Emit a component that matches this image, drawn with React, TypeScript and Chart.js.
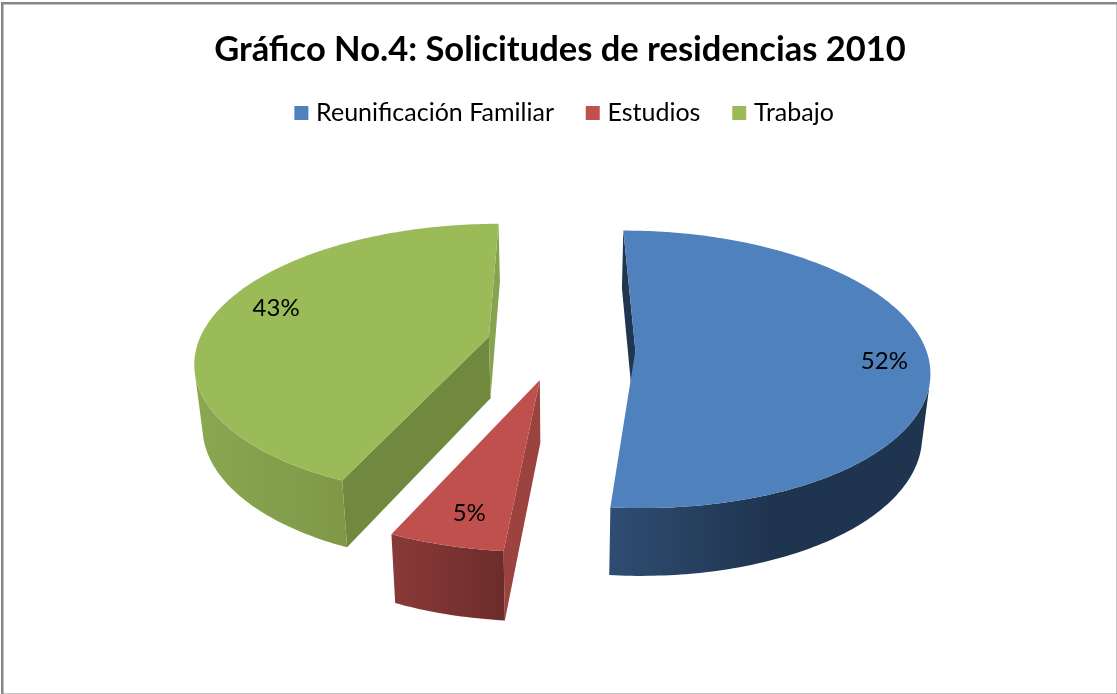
import React, { useEffect, useRef } from "react";
import { Chart, registerables } from "chart.js";

Chart.register(...registerables);

const TITLE = "Gráfico No.4: Solicitudes de residencias 2010";
const categories = ["Reunificación Familiar", "Estudios", "Trabajo"];
const shares = [51.5, 5.4, 43.1];
const topColors = ["#4F81BD", "#C0504D", "#9BBB59"];
const wallFrom = ["#2F4D72", "#893A39", "#8BA751"];
const wallTo = ["#1F344F", "#6D2C2A", "#71893F"];
const startWall = ["#1F3550", "#9C433F", "#71893F"];
const endWall = ["#1F3550", "#9C433F", "#88A350"];
const explode = [0.243, 0.255, 0.243];
const apexU = [0.013, 0, -0.007];
const apexV = [-0.005, -0.03, -0.044];
const labelReach = [0.85, 0.82, 0.81];
const labelTurn = [2, -1, 6.5];

// oblique-view camera of the 3D pie
const VIEW = { a: 294.5, b: 136, p: 0.13, depth: 62, shrink: 1.023 };

const pie3d = {
  id: "pie3d",
  afterLayout(chart: any) {
    chart.legend.left += 4;
    chart.legend.right += 4;
  },
  beforeDatasetDraw(chart: any) {
    const { ctx } = chart;
    const arcs = chart.getDatasetMeta(0).data;
    const order = [2, 1, 0];
    order.forEach((i) => {
      const el = arcs[i];
      const { x: ox, y: oy, startAngle: s, endAngle: e } = el.getProps(["x", "y", "startAngle", "endAngle"], true);
      const mid = (s + e) / 2;
      const dx = explode[i] * Math.cos(mid);
      const dy = explode[i] * Math.sin(mid);
      const proj = (u: number, v: number, low: number): [number, number] => {
        const U = u + dx;
        const V = v + dy;
        const w = 1 - VIEW.p * V;
        if (!low) return [ox + (VIEW.a * U) / w, oy + (VIEW.b * V) / w];
        const w2 = w * VIEW.shrink;
        return [ox + (VIEW.a * U) / w2, oy + (VIEW.b * V) / w2 + VIEW.depth / w];
      };
      const n = Math.max(8, Math.ceil((e - s) * 60));
      const ring: [number, number][] = [];
      for (let k = 0; k <= n; k++) {
        const t = s + ((e - s) * k) / n;
        ring.push([Math.cos(t), Math.sin(t)]);
      }
      const apex: [number, number] = [apexU[i], apexV[i]];
      const fillPoly = (pts: [number, number][], fill: any) => {
        ctx.beginPath();
        pts.forEach((p, j) => (j ? ctx.lineTo(p[0], p[1]) : ctx.moveTo(p[0], p[1])));
        ctx.closePath();
        ctx.fillStyle = fill;
        ctx.fill();
      };
      const area = (pts: [number, number][]) => {
        let sum = 0;
        pts.forEach((p, j) => {
          const q = pts[(j + 1) % pts.length];
          sum += p[0] * q[1] - q[0] * p[1];
        });
        return sum / 2;
      };
      const quadOf = (a: [number, number], b: [number, number]): [number, number][] => [
        proj(a[0], a[1], 0),
        proj(b[0], b[1], 0),
        proj(b[0], b[1], 1),
        proj(a[0], a[1], 1),
      ];
      const wallQuad = (a: [number, number], b: [number, number], fill: any) => {
        const q = quadOf(a, b);
        if (area(q) < 0) fillPoly(q, fill);
      };
      // radial walls
      wallQuad(apex, ring[0], startWall[i]);
      wallQuad(ring[n], apex, endWall[i]);
      // rim: one polygon for the run of segments that faces the viewer
      const run: [number, number][] = [];
      for (let k = 0; k < n; k++) {
        if (area(quadOf(ring[k], ring[k + 1])) < 0) {
          if (!run.length) run.push(ring[k]);
          run.push(ring[k + 1]);
        }
      }
      if (run.length > 1) {
        const frontXs = ring.map((r) => proj(r[0], r[1], 0)[0]);
        const grad = ctx.createLinearGradient(Math.min(...frontXs), 0, Math.max(...frontXs), 0);
        grad.addColorStop(0, wallFrom[i]);
        if (i === 0) grad.addColorStop(0.5, wallTo[i]);
        grad.addColorStop(1, wallTo[i]);
        fillPoly(
          [...run.map((r) => proj(r[0], r[1], 0)), ...run.slice().reverse().map((r) => proj(r[0], r[1], 1))],
          grad
        );
      }
      // top face
      const top: [number, number][] = [proj(apex[0], apex[1], 0), ...ring.map((r) => proj(r[0], r[1], 0))];
      fillPoly(top, topColors[i]);
      // value label
      const rr = labelReach[i];
      const la = mid + (labelTurn[i] * Math.PI) / 180;
      const [lx, ly] = proj(rr * Math.cos(la), rr * Math.sin(la), 0);
      ctx.fillStyle = "#000000";
      ctx.font = "24px Lato, Carlito, sans-serif";
      ctx.textAlign = "center";
      ctx.textBaseline = "middle";
      ctx.fillText(`${Math.round(shares[i])}%`, lx, ly);
    });
    return false;
  },
};

const frame = {
  id: "frame",
  beforeDraw(chart: any) {
    const { ctx, width, height } = chart;
    ctx.save();
    ctx.fillStyle = "#FFFFFF";
    ctx.fillRect(0, 0, width, height);
    ctx.strokeStyle = "#868686";
    ctx.lineWidth = 2.5;
    ctx.strokeRect(2.25, 3.25, width - 1.5, height - 2.5);
    ctx.restore();
  },
};

// legend swatch: 14px square, sitting closer to its text than the library's default gap
const swatch = (color: string) => {
  const c = document.createElement("canvas");
  c.width = 29;
  c.height = 14;
  const g = c.getContext("2d") as CanvasRenderingContext2D;
  g.fillStyle = color;
  g.fillRect(10, 0, 14, 14);
  return c;
};

export default function App() {
  const ref = useRef<HTMLCanvasElement | null>(null);
  useEffect(() => {
    document.body.style.margin = "0";
    const chart = new Chart(ref.current as HTMLCanvasElement, {
      type: "pie",
      data: {
        labels: categories,
        datasets: [{ data: shares, backgroundColor: topColors, borderWidth: 0 }],
      },
      options: {
        responsive: false,
        animation: false,
        layout: { padding: { top: 0, left: 3, right: 0, bottom: 130 } },
        plugins: {
          title: {
            display: true,
            text: TITLE,
            color: "#000000",
            font: { family: "Lato, Carlito, sans-serif", size: 34.5, weight: "bold" },
            padding: { top: 29, bottom: -1.5 },
          },
          legend: {
            position: "top",
            labels: {
              color: "#000000",
              font: { family: "Lato, Carlito, sans-serif", size: 25 },
              usePointStyle: true,
              boxWidth: 9.5,
              boxHeight: 14,
              padding: 31.5,
              generateLabels: (c: any) =>
                Chart.overrides.pie.plugins.legend.labels
                  .generateLabels(c)
                  .map((item: any, i: number) => ({ ...item, pointStyle: swatch(topColors[i]) })),
            },
          },
          tooltip: { enabled: false },
        },
      },
      plugins: [frame, pie3d],
    } as any);
    return () => chart.destroy();
  }, []);
  return (
    <div style={{ width: 1117, height: 694, overflow: "hidden" }}>
      <canvas ref={ref} width={1117} height={694} style={{ display: "block" }} />
    </div>
  );
}
